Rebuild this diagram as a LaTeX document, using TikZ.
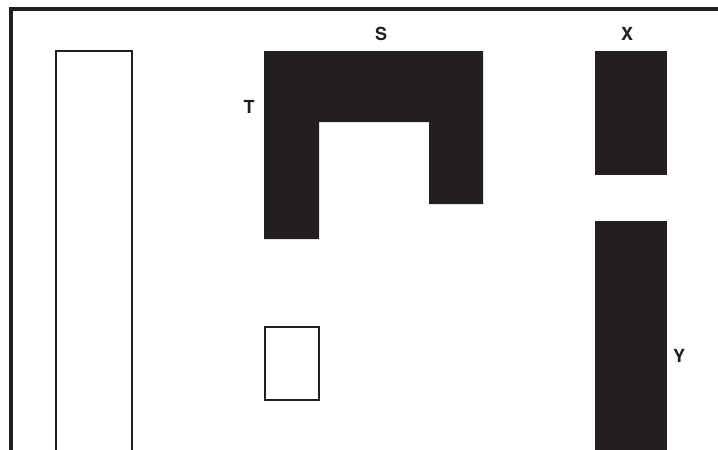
\documentclass[tikz,border=0pt]{standalone}
\usepackage{fontspec}
\setmainfont{TeX Gyre Heros}
\definecolor{ink}{HTML}{231F20}
\tikzset{
  solid block/.style={fill=ink,draw=none},
  open box/.style={draw=ink,line width=1.2pt,fill=white},
  lbl/.style={text=ink,inner sep=0pt,font=\Large\bfseries,scale=1.25}}
\begin{document}
\begin{tikzpicture}[x=1pt,y=-1pt]
\useasboundingbox (0,0) rectangle (718,450);
% frame
\draw[ink,line width=4pt] (11,452) -- (11,9) -- (720,9);
% tall open box
\draw[open box] (56,452) -- (56,51) -- (132,51) -- (132,452);
% small open box
\draw[open box] (265,327) rectangle (319,400);
% U shape
\fill[solid block] (264,51) -- (483,51) -- (483,204) -- (429,204) -- (429,122) -- (319,122) -- (319,239) -- (264,239) -- cycle;
% X and Y blocks
\fill[solid block] (595,51) rectangle (667,175);
\fill[solid block] (595,221) rectangle (667,452);
% labels
\node[lbl] (S) at (381,34) {S};
\node[lbl] (T) at (249,107) {T};
\node[lbl] (X) at (627,34) {X};
\node[lbl] (Y) at (679,356) {Y};
\end{tikzpicture}
\end{document}
